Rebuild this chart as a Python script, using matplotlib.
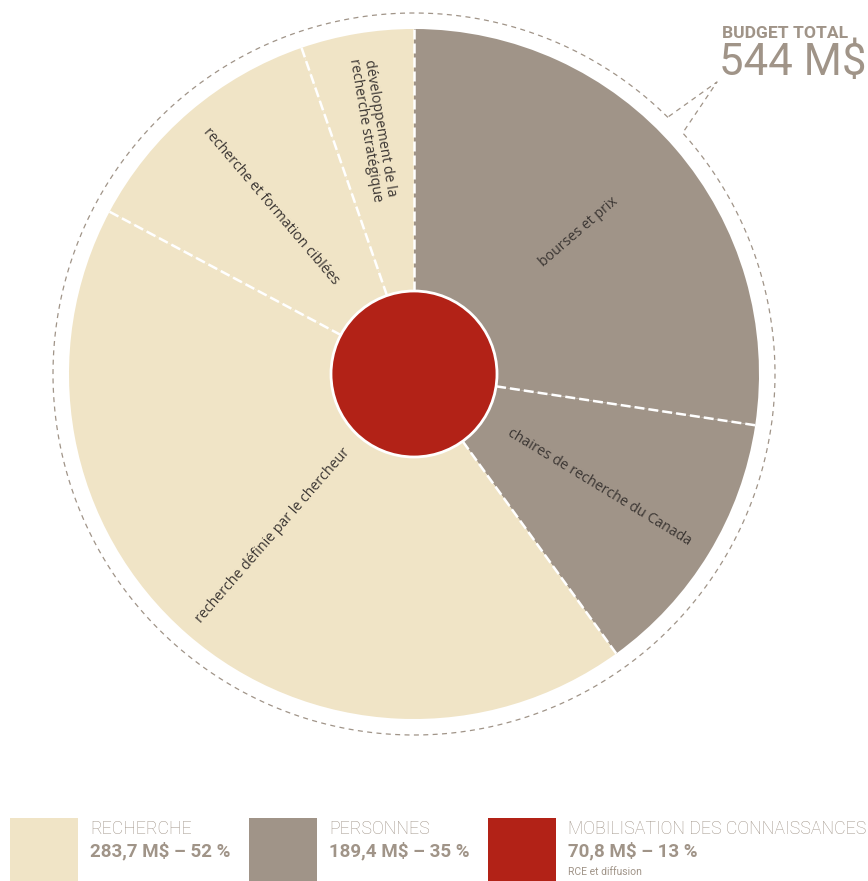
import numpy as np
import matplotlib
matplotlib.use('Agg')
import matplotlib.pyplot as plt
from matplotlib.patches import Circle, Rectangle

# outer ring (M$): recherche sub-programs + personnes sub-programs, clockwise from 12 o'clock
labels = ['bourses et prix', 'chaires de recherche du Canada',
          'recherche définie par le chercheur', 'recherche et formation ciblées',
          'développement de la\nrecherche stratégique']
values = [129.5, 59.9, 202.3, 56.4, 25.0]
groups = ['PERSONNES', 'PERSONNES', 'RECHERCHE', 'RECHERCHE', 'RECHERCHE']

legend_names = ['RECHERCHE', 'PERSONNES', 'MOBILISATION DES CONNAISSANCES']
legend_values = ['283,7 M$ – 52 %', '189,4 M$ – 35 %', '70,8 M$ – 13 %']
legend_notes = ['', '', 'RCE et diffusion']
total_label = '544 M$'

BEIGE = '#F0E4C6'
TAUPE = '#A09488'
RED = '#B22217'
TXT = '#3b3633'
group_colors = {'RECHERCHE': BEIGE, 'PERSONNES': TAUPE,
                'MOBILISATION DES CONNAISSANCES': RED}

W, H = 868, 881
fig = plt.figure(figsize=(W / 100, H / 100), dpi=100)
ax = fig.add_axes([0, 0, 1, 1])

cx, cy = 414, H - 374
R, r_in, R_dash = 345, 83, 361

ax.pie(values, colors=[group_colors[g] for g in groups], startangle=90,
       counterclock=False, center=(cx, cy), radius=R,
       wedgeprops=dict(linewidth=0))

# boundaries + labels
vals = np.array(values)
bounds = 90 - 360 * np.concatenate([[0], np.cumsum(vals)]) / vals.sum()
for a in bounds[:-1]:
    t = np.radians(a)
    ax.plot([cx + r_in * np.cos(t), cx + R * np.cos(t)],
            [cy + r_in * np.sin(t), cy + R * np.sin(t)],
            color='white', lw=1.8, dashes=(4, 1.6), solid_capstyle='butt', zorder=3)

label_r = [0.63, 0.63, 0.62, 0.64, 0.72]
for lab, a0, a1, lr in zip(labels, bounds[:-1], bounds[1:], label_r):
    mid = (a0 + a1) / 2
    t = np.radians(mid)
    rot = (mid + 90) % 180 - 90
    ax.text(cx + lr * R * np.cos(t), cy + lr * R * np.sin(t), lab,
            rotation=rot, rotation_mode='anchor', ha='center', va='center',
            fontsize=10.2, color=TXT, family=['Open Sans', 'DejaVu Sans'],
            linespacing=1.0, zorder=4)

ax.add_patch(Circle((cx, cy), r_in, facecolor=RED, edgecolor='white', lw=2, zorder=5))

# dashed outer ring with callout notch
a_start, a_end = 45.3, 41.9 + 360
th = np.radians(np.linspace(a_start, a_end, 600))
xs = list(cx + R_dash * np.cos(th)) + [717, 668]
ys = list(cy + R_dash * np.sin(th)) + [H - 82, H - 117]
ax.plot(xs, ys, color=TAUPE, lw=0.9, dashes=(4, 3.5), zorder=2)

narrow = ['Roboto', 'DejaVu Sans']
ax.text(722, H - 34, 'BUDGET TOTAL', fontsize=12.6, fontweight='bold', color=TAUPE,
        family=narrow, ha='left', va='center')
ax.text(719, H - 63, total_label, fontsize=31.5, color=TAUPE,
        family=narrow, ha='left', va='center')

# legend
for i, (name, val, note) in enumerate(zip(legend_names, legend_values, legend_notes)):
    x0 = 10 + i * 239
    ax.add_patch(Rectangle((x0, 0), 68, H - 818, facecolor=group_colors[name],
                           edgecolor='none'))
    ax.text(x0 + 80, H - 829, name, fontsize=12.8, fontweight='light', color=TAUPE,
            family=narrow, ha='left', va='center')
    ax.text(x0 + 80, H - 851, val, fontsize=13.5, fontweight='bold', color=TAUPE,
            family=narrow, ha='left', va='center')
    if note:
        ax.text(x0 + 80, H - 872, note, fontsize=7.5, color=TAUPE, family=narrow,
                ha='left', va='center')

ax.set_xlim(0, W)
ax.set_ylim(0, H)
ax.set_aspect('equal')
ax.axis('off')
fig.savefig('out.png', dpi=100)
